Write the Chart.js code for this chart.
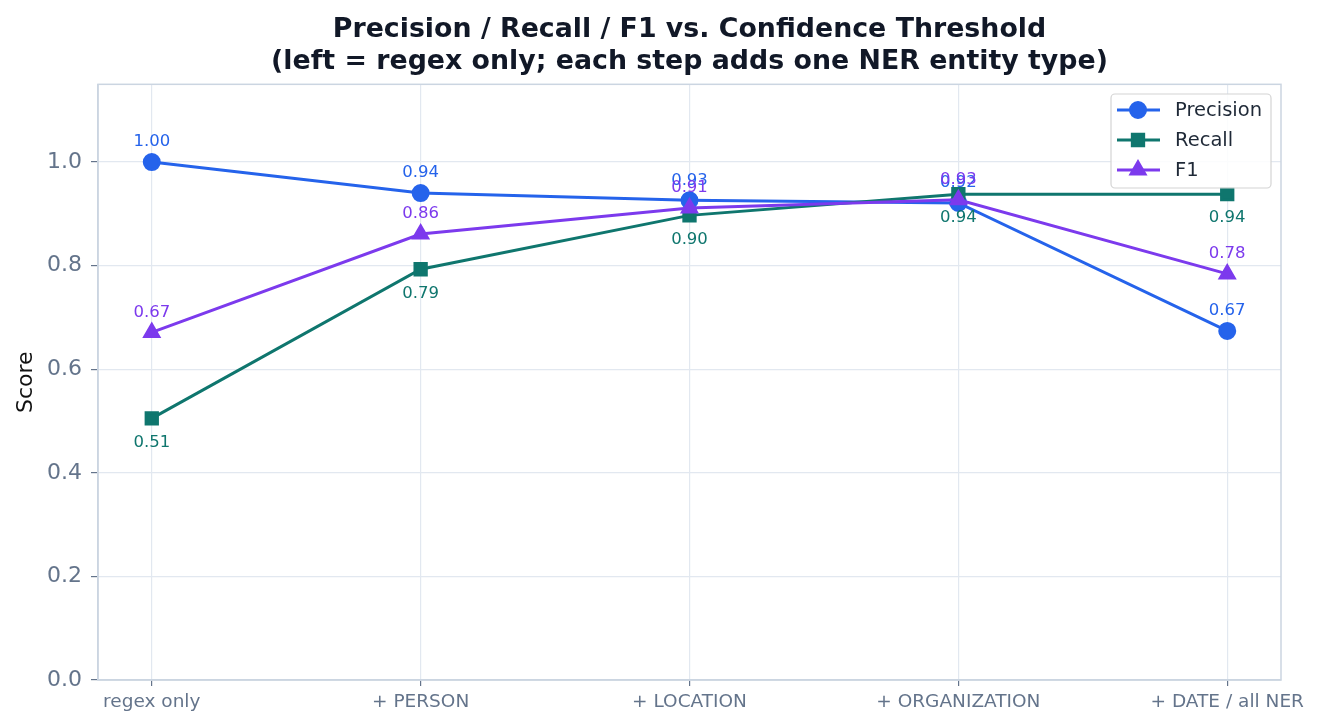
<!DOCTYPE html>
<html>
<head>
<meta charset="utf-8">
<script src="https://cdn.jsdelivr.net/npm/chart.js@4"></script>
<style>
  body { margin: 0; background: #fff; }
  #wrap { width: 1321px; height: 728px; }
</style>
</head>
<body>
<div id="wrap"><canvas id="chart" width="1321" height="728"></canvas></div>
<script>
// Categories along the x axis
const categories = ['regex only', '+ PERSON', '+ LOCATION', '+ ORGANIZATION', '+ DATE / all NER'];

// Scores
const precision = [1.00, 0.94, 0.926, 0.921, 0.674];
const recall    = [0.505, 0.793, 0.897, 0.938, 0.938];
const f1        = [0.671, 0.861, 0.911, 0.927, 0.784];

const yTicks = [0, 0.2, 0.4, 0.6, 0.8, 1.0];

const colors = {
  precision: '#2563eb',
  recall:    '#0f766e',
  f1:        '#7c3aed'
};

const FONT = "'DejaVu Sans', sans-serif";

function toPoints(arr) {
  return arr.map((v, i) => ({ x: i, y: v }));
}

// value labels: above for precision / f1, below for recall
const valueLabels = {
  id: 'valueLabels',
  afterDatasetsDraw(chart) {
    const ctx = chart.ctx;
    ctx.save();
    ctx.font = '16.5px ' + FONT;
    ctx.textAlign = 'center';
    ctx.textBaseline = 'middle';
    chart.data.datasets.forEach((ds, di) => {
      const meta = chart.getDatasetMeta(di);
      meta.data.forEach((pt, i) => {
        ctx.fillStyle = ds.borderColor;
        const dy = ds.labelBelow ? 24 : -20;
        ctx.fillText(ds.data[i].y.toFixed(2), pt.x, pt.y + dy);
      });
    });
    ctx.restore();
  }
};

// full frame around the plot area
const frame = {
  id: 'frame',
  beforeDatasetsDraw(chart) {
    const a = chart.chartArea;
    const ctx = chart.ctx;
    ctx.save();
    ctx.strokeStyle = '#cbd5e1';
    ctx.lineWidth = 1.5;
    ctx.strokeRect(a.left, a.top, a.right - a.left, a.bottom - a.top);
    ctx.restore();
  }
};

// legend in the upper right corner, line + marker like the original
const boxLegend = {
  id: 'boxLegend',
  afterDraw(chart) {
    const ctx = chart.ctx;
    const x = 1111, y = 94, w = 160, h = 94;
    ctx.save();
    ctx.fillStyle = 'rgba(255,255,255,0.85)';
    ctx.strokeStyle = '#d4d4d4';
    ctx.lineWidth = 1.2;
    ctx.beginPath();
    ctx.roundRect(x, y, w, h, 4);
    ctx.fill();
    ctx.stroke();
    const rows = chart.data.datasets.slice();
    rows.sort((a, b) => a.legendIndex - b.legendIndex);
    rows.forEach((ds, i) => {
      const cy = 110 + i * 30;
      ctx.strokeStyle = ds.borderColor;
      ctx.lineWidth = 3;
      ctx.beginPath();
      ctx.moveTo(1117, cy);
      ctx.lineTo(1160, cy);
      ctx.stroke();
      ctx.fillStyle = ds.borderColor;
      ctx.strokeStyle = ds.borderColor;
      Chart.helpers.drawPoint(ctx, {
        pointStyle: ds.pointStyle,
        radius: ds.pointRadius,
        borderWidth: 1
      }, 1138, cy);
      ctx.fillStyle = '#1f2937';
      ctx.font = '19.5px ' + FONT;
      ctx.textAlign = 'left';
      ctx.textBaseline = 'middle';
      ctx.fillText(ds.label, 1175, cy + 1);
    });
    ctx.restore();
  }
};

const chart = new Chart(document.getElementById('chart'), {
  type: 'line',
  data: {
    datasets: [
      {
        label: 'Precision', legendIndex: 0, order: 2,
        data: toPoints(precision),
        borderColor: colors.precision, backgroundColor: colors.precision,
        pointStyle: 'circle', pointRadius: 7.5, borderWidth: 3
      },
      {
        label: 'Recall', legendIndex: 1, order: 1, labelBelow: true,
        data: toPoints(recall),
        borderColor: colors.recall, backgroundColor: colors.recall,
        pointStyle: 'rect', pointRadius: 8, borderWidth: 3
      },
      {
        label: 'F1', legendIndex: 2, order: 0,
        data: toPoints(f1),
        borderColor: colors.f1, backgroundColor: colors.f1,
        pointStyle: 'triangle', pointRadius: 8, borderWidth: 3
      }
    ]
  },
  options: {
    responsive: false,
    animation: false,
    layout: { padding: { left: 0, right: 40, top: 0, bottom: 0 } },
    plugins: {
      legend: { display: false },
      tooltip: { enabled: false },
      title: {
        display: true,
        fullSize: false,
        text: ['Precision / Recall / F1 vs. Confidence Threshold',
               '(left = regex only; each step adds one NER entity type)'],
        color: '#111827',
        font: { family: FONT, size: 26.8, weight: 'bold', lineHeight: 1.2 },
        padding: { top: 14, bottom: 6 }
      }
    },
    scales: {
      x: {
        type: 'linear',
        min: -0.2, max: 4.2,
        afterBuildTicks: s => { s.ticks = categories.map((c, i) => ({ value: i })); },
        afterFit: s => { s.height = 48; },
        grid: { color: '#e2e8f0', lineWidth: 1.2, tickLength: 6, tickColor: '#64748b' },
        border: { color: '#cbd5e1', width: 1.5 },
        ticks: {
          autoSkip: false, maxRotation: 0,
          color: '#64748b', padding: 5,
          font: { family: FONT, size: 18.5 },
          callback: v => categories[v]
        }
      },
      y: {
        min: 0, max: 1.15,
        afterBuildTicks: s => { s.ticks = yTicks.map(v => ({ value: v })); },
        afterFit: s => { s.width = 98; },
        grid: { color: '#e2e8f0', lineWidth: 1.2, tickLength: 7, tickColor: '#64748b' },
        border: { color: '#cbd5e1', width: 1.5 },
        title: {
          display: true, text: 'Score', color: '#111',
          font: { family: FONT, size: 22 },
          padding: { top: 13, bottom: 0 }
        },
        ticks: {
          color: '#64748b', padding: 9,
          font: { family: FONT, size: 22 },
          callback: v => v.toFixed(1)
        }
      }
    }
  },
  plugins: [frame, valueLabels, boxLegend]
});
</script>
</body>
</html>
